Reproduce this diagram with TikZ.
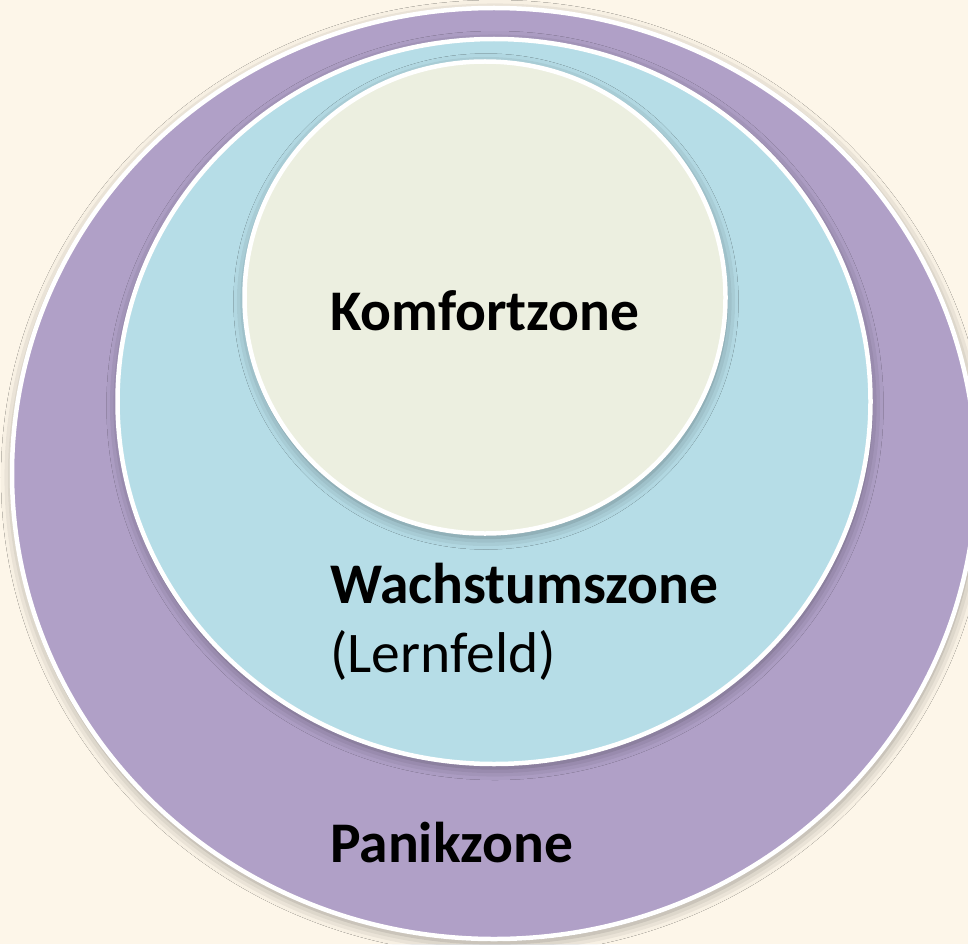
\documentclass[tikz,border=0pt]{standalone}
\usepackage{fontspec}
\setmainfont{Carlito}
\usepackage{xcolor}
\usetikzlibrary{shapes.geometric,shadows.blur}

\definecolor{bgcream}{RGB}{253,246,233}
\definecolor{panik}{RGB}{176,160,199}
\definecolor{wachstum}{RGB}{182,221,231}
\definecolor{komfort}{RGB}{236,239,224}

\begin{document}
\begin{tikzpicture}[x=1pt, y=-1pt,
      zone/.style={ellipse, draw=white, line width=4.5pt, inner sep=0pt,
                   blur shadow={shadow xshift=1pt, shadow yshift=-4pt,
                                shadow blur radius=12pt, shadow opacity=40}},
      lbl/.style={anchor=base west, inner sep=0pt,
                  font=\fontsize{57.5}{66}\selectfont}
    ]
    \fill[bgcream] (0,0) rectangle (968,944);
    \useasboundingbox (0,0) rectangle (968,944);
    \begin{scope}
      \clip (0,0) rectangle (968,944);
      \node[zone, fill=panik,    minimum width=964pt, minimum height=931pt] (panik)    at (494,473.5) {};
      \node[zone, fill=wachstum, minimum width=753pt, minimum height=725pt] (wachstum) at (494,401.5) {};
      \node[zone, fill=komfort,  minimum width=481pt, minimum height=472pt] (komfort)  at (485,297.5) {};
    \end{scope}
    \node[lbl] (komforttxt)  at (330,330) {\textbf{Komfortzone}};
    \node[lbl] (wachstumtxt) at (330,603) {\textbf{Wachstumszone}};
    \node[lbl] (lernfeldtxt) at (330,672) {(Lernfeld)};
    \node[lbl] (paniktxt)    at (330,862) {\textbf{Panikzone}};
  \end{tikzpicture}
\end{document}
